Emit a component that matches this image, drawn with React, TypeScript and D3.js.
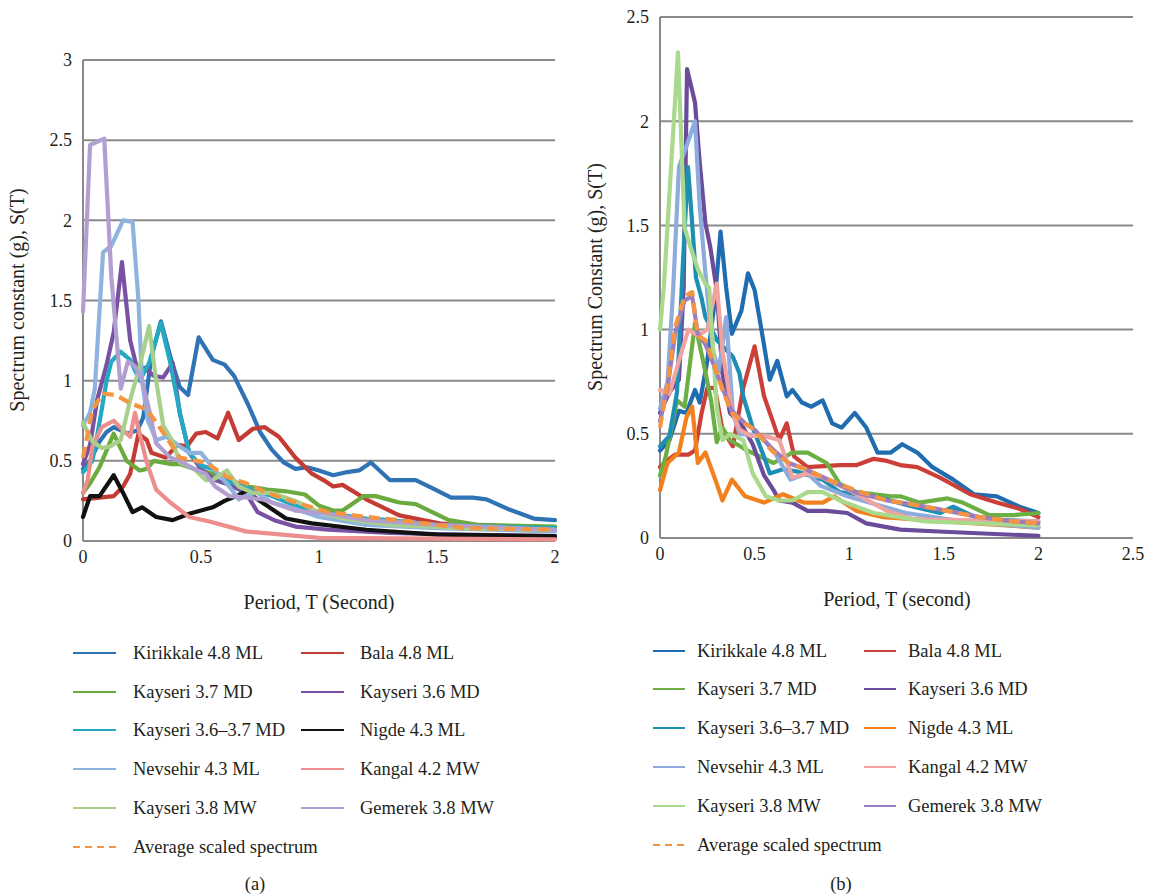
import React from 'react';
import * as d3 from 'd3';

type Pt = [number, number];

// legend labels (same order in both panels)
const names = [
  'Kirikkale 4.8 ML', 'Bala 4.8 ML',
  'Kayseri 3.7 MD', 'Kayseri 3.6 MD',
  'Kayseri 3.6\u20133.7 MD', 'Nigde 4.3 ML',
  'Nevsehir 4.3 ML', 'Kangal 4.2 MW',
  'Kayseri 3.8 MW', 'Gemerek 3.8 MW',
];
const avgName = 'Average scaled spectrum';

const colorsA = ['#2f73b5', '#c43b33', '#6aaa3e', '#7851a2', '#23a9c2', '#111111', '#8db3de', '#ec8e8c', '#a8d08c', '#b09fd0'];
const colorsB = ['#1f6cb0', '#cc3f38', '#6daf45', '#6b4c9a', '#1d8fb2', '#f3801f', '#8eabdd', '#f1a3a0', '#a9d98c', '#9b7dc6'];
const avgColor = '#f59441';

// panel (a): [period T, S(T)]
const kirikkaleA: Pt[] = [[0,0.45],[0.03,0.5],[0.07,0.62],[0.1,0.68],[0.13,0.71],[0.19,0.67],[0.23,0.69],[0.255,0.77],[0.29,1.15],[0.33,1.37],[0.37,1.15],[0.41,0.96],[0.445,0.91],[0.49,1.27],[0.55,1.13],[0.6,1.1],[0.64,1.03],[0.7,0.85],[0.75,0.68],[0.8,0.57],[0.85,0.49],[0.9,0.45],[0.95,0.46],[1.0,0.44],[1.06,0.41],[1.12,0.43],[1.17,0.44],[1.22,0.49],[1.3,0.38],[1.41,0.38],[1.48,0.33],[1.56,0.27],[1.65,0.27],[1.71,0.26],[1.8,0.2],[1.91,0.14],[2,0.13]];
const balaA: Pt[] = [[0,0.26],[0.07,0.27],[0.13,0.28],[0.17,0.34],[0.2,0.42],[0.235,0.67],[0.27,0.63],[0.29,0.55],[0.35,0.52],[0.4,0.6],[0.44,0.59],[0.48,0.67],[0.52,0.68],[0.57,0.64],[0.615,0.8],[0.66,0.63],[0.72,0.7],[0.77,0.71],[0.83,0.65],[0.9,0.52],[0.97,0.42],[1.03,0.37],[1.06,0.34],[1.1,0.35],[1.2,0.26],[1.34,0.16],[1.51,0.11],[1.7,0.08],[2,0.07]];
const kayseri37A: Pt[] = [[0,0.3],[0.03,0.36],[0.07,0.46],[0.13,0.67],[0.185,0.5],[0.24,0.44],[0.27,0.45],[0.3,0.5],[0.37,0.48],[0.41,0.48],[0.47,0.45],[0.55,0.42],[0.62,0.38],[0.7,0.34],[0.78,0.32],[0.86,0.31],[0.94,0.29],[1.0,0.22],[1.06,0.19],[1.1,0.19],[1.19,0.28],[1.24,0.28],[1.34,0.24],[1.41,0.23],[1.48,0.18],[1.55,0.13],[1.68,0.1],[2,0.09]];
const kayseri36A: Pt[] = [[0,0.48],[0.03,0.6],[0.06,0.88],[0.1,1.1],[0.13,1.3],[0.165,1.74],[0.2,1.25],[0.23,1.07],[0.26,1.08],[0.3,1.03],[0.34,1.02],[0.38,1.11],[0.41,0.8],[0.45,0.55],[0.5,0.45],[0.56,0.38],[0.62,0.35],[0.69,0.3],[0.74,0.18],[0.81,0.13],[0.9,0.09],[1.04,0.07],[1.3,0.05],[1.6,0.04],[2,0.03]];
const tealA: Pt[] = [[0,0.43],[0.04,0.5],[0.07,0.74],[0.1,1.0],[0.12,1.12],[0.16,1.18],[0.2,1.13],[0.24,1.0],[0.28,1.11],[0.33,1.36],[0.37,1.11],[0.41,0.8],[0.45,0.55],[0.5,0.47],[0.55,0.45],[0.6,0.38],[0.7,0.33],[0.8,0.28],[0.9,0.22],[1.0,0.18],[1.1,0.16],[1.2,0.14],[1.3,0.13],[1.5,0.1],[1.7,0.09],[2,0.08]];
const nigdeA: Pt[] = [[0,0.15],[0.03,0.28],[0.07,0.28],[0.13,0.41],[0.17,0.3],[0.21,0.18],[0.25,0.21],[0.31,0.15],[0.38,0.13],[0.45,0.17],[0.55,0.21],[0.6,0.25],[0.65,0.28],[0.69,0.31],[0.73,0.27],[0.8,0.2],[0.86,0.14],[0.97,0.11],[1.2,0.07],[1.5,0.04],[2,0.03]];
const nevsehirA: Pt[] = [[0,0.72],[0.03,0.8],[0.05,0.95],[0.085,1.8],[0.12,1.84],[0.17,2.0],[0.21,1.99],[0.235,1.5],[0.25,1.0],[0.275,0.75],[0.31,0.63],[0.355,0.65],[0.4,0.6],[0.45,0.55],[0.5,0.55],[0.56,0.44],[0.62,0.34],[0.66,0.26],[0.7,0.29],[0.74,0.3],[0.8,0.24],[0.9,0.2],[1.0,0.15],[1.2,0.1],[1.5,0.08],[2,0.06]];
const kangalA: Pt[] = [[0,0.3],[0.02,0.38],[0.04,0.59],[0.08,0.71],[0.13,0.75],[0.17,0.69],[0.2,0.65],[0.22,0.8],[0.24,0.67],[0.27,0.49],[0.31,0.32],[0.37,0.24],[0.45,0.15],[0.54,0.12],[0.69,0.06],[1.0,0.02],[2,0.01]];
const kayseri38A: Pt[] = [[0,0.74],[0.04,0.62],[0.08,0.58],[0.115,0.59],[0.16,0.63],[0.2,0.88],[0.24,1.09],[0.28,1.34],[0.31,1.0],[0.34,0.72],[0.38,0.62],[0.41,0.49],[0.47,0.45],[0.52,0.38],[0.55,0.38],[0.61,0.44],[0.66,0.34],[0.72,0.3],[0.8,0.3],[0.9,0.25],[1.0,0.18],[1.1,0.14],[1.3,0.1],[1.6,0.08],[2,0.07]];
const gemerekA: Pt[] = [[0,1.43],[0.03,2.47],[0.09,2.51],[0.12,1.65],[0.16,0.95],[0.19,1.12],[0.22,1.09],[0.25,1.0],[0.28,0.82],[0.31,0.61],[0.37,0.52],[0.41,0.5],[0.47,0.45],[0.52,0.42],[0.56,0.34],[0.62,0.28],[0.7,0.27],[0.76,0.26],[0.9,0.19],[1.04,0.17],[1.2,0.13],[1.5,0.1],[2,0.07]];
const avgA: Pt[] = [[0,0.52],[0.04,0.82],[0.085,0.92],[0.14,0.91],[0.2,0.86],[0.27,0.82],[0.31,0.74],[0.37,0.61],[0.41,0.52],[0.48,0.5],[0.52,0.49],[0.61,0.4],[0.69,0.36],[0.78,0.3],[0.9,0.24],[1.04,0.18],[1.2,0.15],[1.34,0.13],[1.5,0.1],[1.63,0.08],[2,0.07]];

// panel (b)
const kirikkaleB: Pt[] = [[0,0.42],[0.05,0.47],[0.1,0.61],[0.14,0.6],[0.185,0.71],[0.21,0.65],[0.25,0.85],[0.29,1.14],[0.32,1.47],[0.35,1.2],[0.38,0.98],[0.43,1.09],[0.465,1.27],[0.5,1.19],[0.54,0.98],[0.58,0.76],[0.62,0.85],[0.67,0.68],[0.7,0.71],[0.75,0.65],[0.8,0.63],[0.86,0.66],[0.91,0.55],[0.96,0.53],[1.03,0.6],[1.09,0.53],[1.15,0.41],[1.22,0.41],[1.28,0.45],[1.36,0.41],[1.44,0.34],[1.55,0.28],[1.66,0.21],[1.78,0.2],[1.9,0.15],[2,0.12]];
const balaB: Pt[] = [[0,0.34],[0.05,0.38],[0.08,0.4],[0.15,0.4],[0.185,0.42],[0.22,0.6],[0.25,0.72],[0.29,0.72],[0.33,0.52],[0.385,0.44],[0.44,0.72],[0.5,0.92],[0.55,0.68],[0.6,0.55],[0.63,0.47],[0.67,0.55],[0.71,0.39],[0.78,0.34],[0.95,0.35],[1.04,0.35],[1.13,0.38],[1.2,0.37],[1.27,0.35],[1.36,0.34],[1.48,0.29],[1.64,0.21],[1.78,0.17],[1.9,0.14],[2,0.1]];
const kayseri37B: Pt[] = [[0,0.3],[0.03,0.39],[0.09,0.66],[0.13,0.63],[0.185,1.03],[0.23,0.84],[0.27,0.66],[0.3,0.46],[0.33,0.53],[0.37,0.47],[0.46,0.42],[0.6,0.36],[0.7,0.41],[0.78,0.41],[0.88,0.36],[0.95,0.26],[1.04,0.22],[1.22,0.2],[1.27,0.2],[1.37,0.17],[1.52,0.19],[1.6,0.17],[1.74,0.11],[1.87,0.11],[2,0.12]];
const kayseri36B: Pt[] = [[0,0.6],[0.05,0.7],[0.1,0.76],[0.125,1.2],[0.143,2.25],[0.185,2.09],[0.21,1.8],[0.24,1.51],[0.265,1.4],[0.3,1.19],[0.33,0.79],[0.37,0.6],[0.44,0.53],[0.49,0.45],[0.55,0.3],[0.6,0.23],[0.63,0.18],[0.7,0.17],[0.78,0.13],[0.88,0.13],[0.99,0.12],[1.09,0.07],[1.27,0.04],[1.5,0.03],[2,0.01]];
const tealB: Pt[] = [[0,0.44],[0.05,0.49],[0.09,0.7],[0.12,1.3],[0.148,1.78],[0.17,1.51],[0.19,1.25],[0.22,1.15],[0.24,1.06],[0.3,0.95],[0.385,0.87],[0.42,0.79],[0.44,0.68],[0.49,0.53],[0.55,0.39],[0.58,0.31],[0.65,0.33],[0.72,0.32],[0.86,0.28],[0.95,0.22],[1.13,0.2],[1.34,0.15],[1.48,0.12],[1.55,0.15],[1.69,0.09],[2,0.08]];
const nigdeB: Pt[] = [[0,0.23],[0.04,0.36],[0.1,0.41],[0.14,0.58],[0.17,0.63],[0.2,0.36],[0.24,0.41],[0.3,0.26],[0.33,0.18],[0.38,0.28],[0.45,0.2],[0.55,0.17],[0.65,0.21],[0.73,0.18],[0.76,0.17],[0.86,0.17],[0.92,0.2],[1.04,0.13],[1.18,0.1],[1.5,0.08],[2,0.05]];
const nevsehirB: Pt[] = [[0,0.62],[0.04,0.75],[0.07,1.2],[0.1,1.78],[0.14,1.88],[0.185,2.0],[0.21,1.59],[0.24,1.27],[0.28,0.9],[0.31,0.8],[0.35,1.06],[0.385,0.6],[0.42,0.5],[0.53,0.49],[0.6,0.42],[0.69,0.28],[0.78,0.31],[0.85,0.25],[0.99,0.2],[1.3,0.12],[1.6,0.08],[2,0.05]];
const kangalB: Pt[] = [[0,0.71],[0.05,0.69],[0.1,0.85],[0.15,1.0],[0.2,0.97],[0.25,1.0],[0.3,1.22],[0.33,0.9],[0.38,0.61],[0.42,0.52],[0.48,0.49],[0.55,0.49],[0.63,0.47],[0.7,0.29],[0.78,0.31],[0.86,0.29],[1.0,0.23],[1.2,0.13],[1.34,0.09],[2,0.08]];
const kayseri38B: Pt[] = [[0,1.0],[0.02,1.2],[0.095,2.33],[0.13,1.49],[0.16,1.4],[0.2,1.29],[0.24,1.22],[0.26,1.2],[0.3,0.63],[0.33,0.47],[0.37,0.5],[0.44,0.47],[0.49,0.31],[0.56,0.2],[0.63,0.18],[0.7,0.18],[0.78,0.22],[0.86,0.22],[0.95,0.18],[1.13,0.12],[1.4,0.08],[2,0.06]];
const gemerekB: Pt[] = [[0,0.56],[0.04,0.72],[0.08,0.98],[0.13,1.14],[0.17,1.16],[0.2,0.98],[0.24,0.93],[0.28,0.84],[0.33,0.72],[0.38,0.61],[0.45,0.55],[0.5,0.52],[0.59,0.43],[0.68,0.36],[0.77,0.33],[0.89,0.28],[1.03,0.22],[1.2,0.18],[1.34,0.16],[1.52,0.13],[1.69,0.1],[1.87,0.08],[2,0.07]];
const avgB: Pt[] = [[0,0.53],[0.04,0.74],[0.08,1.01],[0.13,1.16],[0.17,1.18],[0.2,0.97],[0.24,0.95],[0.28,0.85],[0.33,0.71],[0.38,0.6],[0.45,0.55],[0.5,0.52],[0.59,0.42],[0.68,0.36],[0.77,0.33],[0.89,0.28],[1.03,0.23],[1.2,0.18],[1.34,0.16],[1.52,0.13],[1.69,0.1],[1.87,0.08],[2,0.07]];

const seriesA = [kirikkaleA, balaA, kayseri37A, kayseri36A, tealA, nigdeA, nevsehirA, kangalA, kayseri38A, gemerekA];
const seriesB = [kirikkaleB, balaB, kayseri37B, kayseri36B, tealB, nigdeB, nevsehirB, kangalB, kayseri38B, gemerekB];

const ticksA = [0, 0.5, 1, 1.5, 2, 2.5, 3];
const xTicksA = [0, 0.5, 1, 1.5, 2];
const ticksB = [0, 0.5, 1, 1.5, 2, 2.5];
const xTicksB = [0, 0.5, 1, 1.5, 2, 2.5];

const FONT = '"Liberation Serif", "DejaVu Serif", serif';
const TXT = '#231f20';
const GRID = '#8a8a8a';

const fmt = (v: number) => (v === 0 ? '0' : String(v));

function Panel(props: {
  left: number; right: number; top: number; bottom: number;
  xMax: number; yMax: number; yTicks: number[]; xTicks: number[];
  series: Pt[][]; avg: Pt[]; colors: string[];
  xTitle: string; yTitle: string; yTitleX: number; xTitleY: number; xTitleX: number; yTitleY: number;
}) {
  const { left, right, top, bottom, xMax, yMax, yTicks, xTicks, series, avg, colors } = props;
  const x = d3.scaleLinear().domain([0, xMax]).range([left, right]);
  const y = d3.scaleLinear().domain([0, yMax]).range([bottom, top]);
  const line = d3.line<Pt>().x(d => x(d[0])).y(d => y(d[1]));
  return (
    <g>
      {yTicks.filter(t => t > 0).map(t => (
        <line key={'g' + t} x1={left} x2={right} y1={y(t)} y2={y(t)} stroke={GRID} strokeWidth={2} />
      ))}
      <line x1={left} x2={left} y1={top} y2={bottom} stroke={GRID} strokeWidth={2} />
      <line x1={left} x2={right} y1={bottom} y2={bottom} stroke={GRID} strokeWidth={2} />
      {yTicks.map(t => (
        <text key={'yt' + t} x={left - 11} y={y(t)} dy="0.35em" textAnchor="end" fontSize={18} fill={TXT}>{fmt(t)}</text>
      ))}
      {xTicks.map(t => (
        <text key={'xt' + t} x={x(t)} y={bottom + 22} textAnchor="middle" fontSize={18} fill={TXT}>{fmt(t)}</text>
      ))}
      <text x={props.xTitleX} y={props.xTitleY} textAnchor="middle" fontSize={20} fill={TXT}>{props.xTitle}</text>
      <text transform={`translate(${props.yTitleX},${props.yTitleY}) rotate(-90)`} textAnchor="middle" fontSize={20} fill={TXT}>{props.yTitle}</text>
      <g fill="none" strokeLinejoin="round" strokeLinecap="round">
        {series.map((s, i) => (
          <path key={i} d={line(s) || ''} stroke={colors[i]} strokeWidth={4.2} />
        ))}
        <path d={line(avg) || ''} stroke={avgColor} strokeWidth={4.2} strokeDasharray="11 6" strokeLinecap="butt" />
      </g>
    </g>
  );
}

function Legend(props: { colors: string[]; x1: number; x2: number; tx1: number; col2: number; tx2: number; rows: number[] }) {
  const { colors, rows } = props;
  const w = props.x2 - props.x1;
  return (
    <g fontSize={18.5} fill={TXT}>
      {names.map((n, i) => {
        const col = i % 2;
        const r = Math.floor(i / 2);
        const lx = col === 0 ? props.x1 : props.col2;
        const tx = col === 0 ? props.tx1 : props.tx2;
        return (
          <g key={n}>
            <line x1={lx} x2={lx + w} y1={rows[r]} y2={rows[r]} stroke={colors[i]} strokeWidth={2} />
            <text x={tx} y={rows[r]} dy="0.33em">{n}</text>
          </g>
        );
      })}
      <line x1={props.x1} x2={props.x2} y1={rows[5]} y2={rows[5]} stroke={avgColor} strokeWidth={2} strokeDasharray="7 5" />
      <text x={props.tx1} y={rows[5]} dy="0.33em">{avgName}</text>
    </g>
  );
}

export default function App() {
  return (
    <svg width={1154} height={896} style={{ position: 'absolute', left: 0, top: 0, background: '#fff' }} fontFamily={FONT}>
      <rect width={1154} height={896} fill="#fff" />
      <Panel left={83} right={555} top={60} bottom={541} xMax={2} yMax={3} yTicks={ticksA} xTicks={xTicksA}
        series={seriesA} avg={avgA} colors={colorsA}
        xTitle="Period, T (Second)" yTitle="Spectrum constant (g), S(T)" yTitleX={24} yTitleY={300} xTitleX={319} xTitleY={609} />
      <Panel left={660} right={1133} top={17} bottom={538} xMax={2.5} yMax={2.5} yTicks={ticksB} xTicks={xTicksB}
        series={seriesB} avg={avgB} colors={colorsB}
        xTitle="Period, T (second)" yTitle="Spectrum Constant (g), S(T)" yTitleX={602} yTitleY={277} xTitleX={897} xTitleY={606} />
      <Legend colors={colorsA} x1={73} x2={116} tx1={133} col2={301} tx2={360} rows={[653, 692, 730, 769, 808, 847]} />
      <Legend colors={colorsB} x1={653} x2={685} tx1={697} col2={864} tx2={908} rows={[651, 689, 728, 767, 806, 845]} />
      <text x={255} y={890} textAnchor="middle" fontSize={18.5} fill={TXT}>(a)</text>
      <text x={841} y={890} textAnchor="middle" fontSize={18.5} fill={TXT}>(b)</text>
    </svg>
  );
}
